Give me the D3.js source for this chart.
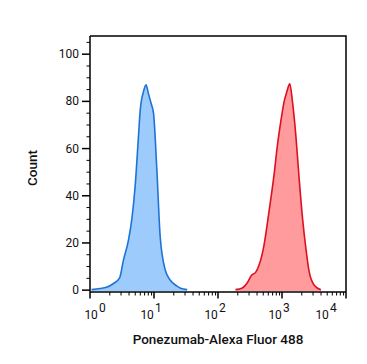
<!DOCTYPE html>
<html>
<head>
<script src='https://d3js.org/d3.v7.min.js'></script>
<style>
body {margin:0; background:#fff;}
text {font-family:Roboto, 'Liberation Sans', sans-serif; fill:#111;}
</style>
</head>
<body>
<svg width=367 height=364></svg>
<script>
// blue histogram (isotype / unstained)
var blue_x = [1.06,1.43,1.8,2.3,2.9,3.33,3.99,4.51,5.08,5.72,6.09,6.86,7.5,8.2,9.0,9.84,11.1,12.5,15,18,22.9,26,33]
var blue_y = [0,0.5,1,2.5,5,12.5,21,30,44,65,76,84,86.8,83,79,74.7,50.4,22.4,8.3,4,1.5,0.6,0]
// red histogram (Ponezumab stained)
var red_x = [188,240,287,332,387,437,523,626,750,848,956,1077,1188,1324,1459,1644,1853,2094,2360,2657,3185,4055]
var red_y = [0,0.7,2.9,6,7.3,10.3,18.8,33,48.5,61.2,71.1,79.6,83.8,87.2,79.6,65.5,47.1,30.2,17.5,7.6,1.9,0]
var y_ticks = [0,20,40,60,80,100]
var x_decades = [0,1,2,3,4]

var plotLeft = 90, plotRight = 346, plotTop = 36, plotBottom = 292

var svg = d3.select('svg')
var x = d3.scaleLog().domain([1,10000]).range([plotLeft,plotRight])
var y = d3.scaleLinear().domain([-1,107.5]).range([plotBottom,plotTop])

var area = d3.area()
    .x(function(d){return x(d[0])})
    .y0(y(-0.6))
    .y1(function(d){return y(d[1])})
    .curve(d3.curveMonotoneX)
var line = d3.line()
    .x(function(d){return x(d[0])})
    .y(function(d){return y(d[1])})
    .curve(d3.curveMonotoneX)

var blue = d3.zip(blue_x, blue_y)
var red = d3.zip(red_x, red_y)

svg.append('path').datum(blue).attr('d',area).attr('fill','#9dcbfb')
svg.append('path').datum(blue).attr('d',line).attr('fill','none').attr('stroke','#1e74d6').attr('stroke-width',1.6)
svg.append('path').datum(red).attr('d',area).attr('fill','#ff9b9d')
svg.append('path').datum(red).attr('d',line).attr('fill','none').attr('stroke','#dd1020').attr('stroke-width',1.6)

// frame top + right
svg.append('path')
   .attr('d','M'+plotLeft+','+plotTop+'H'+plotRight+'V'+plotBottom)
   .attr('fill','none').attr('stroke','#000').attr('stroke-width',1.5)

// y axis
var yAxis = svg.append('g').attr('transform','translate('+plotLeft+',0)')
yAxis.call(d3.axisLeft(y).tickValues(d3.range(0,106,5)).tickSize(3.5).tickFormat(''))
yAxis.selectAll('.tick line').filter(function(d){return d%20==0}).attr('x2',-8).attr('stroke-width',1.5)
yAxis.select('.domain').attr('d','M0,'+plotTop+'V'+plotBottom).attr('stroke-width',1.5)
yAxis.selectAll('.ylab').data(y_ticks).enter().append('text')
   .attr('x',-11).attr('y',function(d){return y(d)+4.5})
   .attr('text-anchor','end').style('font-size','12px').text(function(d){return d})

// x axis
var minor = []
x_decades.slice(0,4).forEach(function(p){ for(var k=2;k<10;k++) minor.push(k*Math.pow(10,p)) })
var xAxis = svg.append('g').attr('transform','translate(0,'+plotBottom+')')
xAxis.call(d3.axisBottom(x).tickValues(minor).tickSize(3.5).tickFormat(''))
xAxis.select('.domain').attr('d','M'+plotLeft+',0H'+plotRight).attr('stroke-width',1.5)
xAxis.selectAll('.major').data(x_decades).enter().append('line')
   .attr('x1',function(d){return x(Math.pow(10,d))}).attr('x2',function(d){return x(Math.pow(10,d))})
   .attr('y1',0).attr('y2',6.5).attr('stroke','#000').attr('stroke-width',1.5)
var lab = xAxis.selectAll('.xlab').data(x_decades).enter().append('text')
   .attr('x',function(d,i){
       var p = x(Math.pow(10,d))
       if (i==0) return p+5
       if (i==x_decades.length-1) return p-20
       return p-3})
   .attr('y',27).style('font-size','12px')
lab.append('tspan').text('10')
lab.append('tspan').attr('dy',-7).attr('dx',1).text(function(d){return d})

// titles
svg.append('text').attr('x',218).attr('y',344).attr('text-anchor','middle')
   .style('font-size','13.5px').style('font-weight','500').text('Ponezumab-Alexa Fluor 488')
svg.append('text').attr('transform','translate(37,'+((plotTop+plotBottom)/2+4)+') rotate(-90)')
   .attr('text-anchor','middle').style('font-size','13.5px').style('font-weight','500').text('Count')
</script>
</body>
</html>
